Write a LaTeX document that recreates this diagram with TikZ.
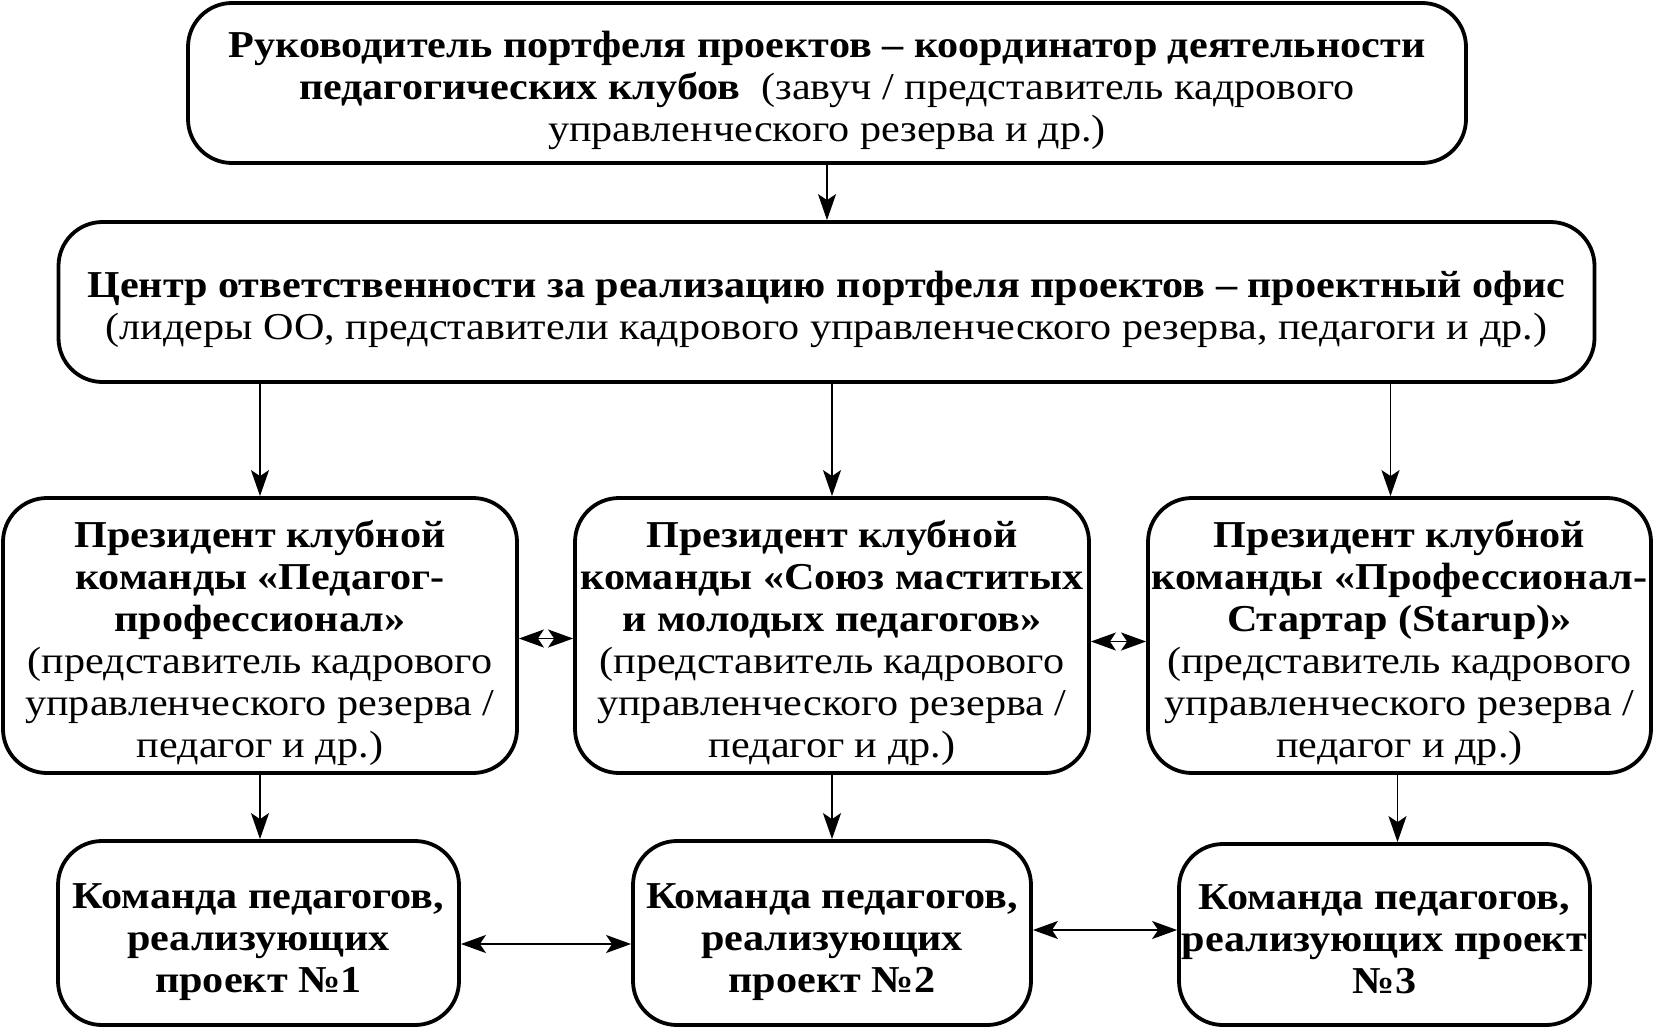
\documentclass[tikz,border=0pt]{standalone}
\usepackage{fontspec}
\setmainfont[FakeStretch=1.11]{Liberation Serif}
\usetikzlibrary{arrows.meta,calc}
\begin{document}
\begin{tikzpicture}[x=0.5pt,y=-0.5pt,
  box/.style={draw,line width=1.9pt,rounded corners=22pt,inner sep=0pt},
  txt/.style={align=center,inner sep=0pt,font=\fontsize{19}{21}\selectfont},
  conn/.style={line width=0.85pt,-{Stealth[length=13pt,width=9pt,inset=3pt]}},
  dconn/.style={line width=0.85pt,{Stealth[length=12.5pt,width=9pt,inset=3pt]}-{Stealth[length=12.5pt,width=9pt,inset=3pt]}}]
\useasboundingbox (0,0) rectangle (1654,1028);
% boxes
\node[box,minimum width=639pt,minimum height=80pt] (top) at (827,83) {};
\node[box,minimum width=768pt,minimum height=80pt] (cent) at (826.5,302) {};
\node[box,minimum width=257pt,minimum height=137.5pt] (p1) at (260,635.5) {};
\node[box,minimum width=257pt,minimum height=137.5pt] (p2) at (832,635.5) {};
\node[box,minimum width=251.5pt,minimum height=137.5pt] (p3) at (1399.5,635.5) {};
\node[box,minimum width=200.5pt,minimum height=92pt] (k1) at (258.5,933) {};
\node[box,minimum width=199pt,minimum height=92pt] (k2) at (832,933) {};
\node[box,minimum width=205.5pt,minimum height=90.5pt] (k3) at (1384.5,934.5) {};
% texts
\node[txt] (topt) at ($(top.center)+(0,7)$)
 {\textbf{Руководитель портфеля проектов – координатор деятельности}\\
  \textbf{педагогических клубов}\ \ (завуч / представитель кадрового\\
  управленческого резерва и др.)};
\node[txt] (centt) at ($(cent.center)+(0,7)$)
 {\textbf{Центр ответственности за реализацию портфеля проектов – проектный офис}\\
  (лидеры ОО, представители кадрового управленческого резерва, педагоги и др.)};
\node[txt] (p1t) at ($(p1.center)+(0,7)$)
 {\textbf{Президент клубной}\\ \textbf{команды «Педагог-}\\ \textbf{профессионал»}\\
  (представитель кадрового\\ управленческого резерва /\\ педагог и др.)};
\node[txt] (p2t) at ($(p2.center)+(0,7)$)
 {\textbf{Президент клубной}\\ \textbf{команды «Союз маститых}\\ \textbf{и молодых педагогов»}\\
  (представитель кадрового\\ управленческого резерва /\\ педагог и др.)};
\node[txt] (p3t) at ($(p3.center)+(0,7)$)
 {\textbf{Президент клубной}\\ \textbf{команды «Профессионал-}\\ \textbf{Стартар (Starup)»}\\
  (представитель кадрового\\ управленческого резерва /\\ педагог и др.)};
\node[txt] (k1t) at ($(k1.center)+(0,9)$)
 {\textbf{Команда педагогов,}\\ \textbf{реализующих}\\ \textbf{проект №1}};
\node[txt] (k2t) at ($(k2.center)+(0,9)$)
 {\textbf{Команда педагогов,}\\ \textbf{реализующих}\\ \textbf{проект №2}};
\node[txt] (k3t) at ($(k3.center)+(0,5)$)
 {\textbf{Команда педагогов,}\\ \textbf{реализующих проект}\\ \textbf{№3}};
% connectors
\draw[conn] (top.south) -- (top.south |- cent.north);
\draw[conn] (p1.north |- cent.south) -- (p1.north);
\draw[conn] (p2.north |- cent.south) -- (p2.north);
\draw[conn] ($(p3.north |- cent.south)+(-9,0)$) -- ($(p3.north)+(-9,0)$);
\draw[conn] (p1.south) -- (p1.south |- k1.north);
\draw[conn] (p2.south) -- (p2.south |- k2.north);
\draw[conn] ($(p3.south)+(-2,0)$) -- ($(p3.south |- k3.north)+(-2,0)$);
\draw[dconn] ($(p1.east)+(0,3)$) -- ($(p2.west)+(0,3)$);
\draw[dconn] ($(p2.east)+(0,6)$) -- ($(p3.west)+(0,6)$);
\draw[dconn] ($(k1.east)+(0,11)$) -- ($(k2.west)+(0,11)$);
\draw[dconn] ($(k2.east)+(0,-3)$) -- ($(k3.west)+(0,-4.5)$);
\end{tikzpicture}
\end{document}
